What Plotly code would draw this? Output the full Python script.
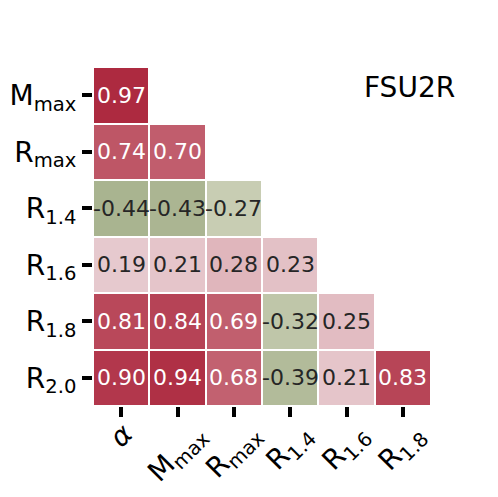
import plotly.graph_objects as go

# Correlation matrix (lower triangle) for FSU2R
x_labels = ["<i>α</i>", "M<sub>max</sub>", "R<sub>max</sub>", "R<sub>1.4</sub>", "R<sub>1.6</sub>", "R<sub>1.8</sub>"]
y_labels = ["M<sub>max</sub>", "R<sub>max</sub>", "R<sub>1.4</sub>", "R<sub>1.6</sub>", "R<sub>1.8</sub>", "R<sub>2.0</sub>"]

row_mmax = [0.97, None, None, None, None, None]
row_rmax = [0.74, 0.70, None, None, None, None]
row_r14 = [-0.44, -0.43, -0.27, None, None, None]
row_r16 = [0.19, 0.21, 0.28, 0.23, None, None]
row_r18 = [0.81, 0.84, 0.69, -0.32, 0.25, None]
row_r20 = [0.90, 0.94, 0.68, -0.39, 0.21, 0.83]
z = [row_mmax, row_rmax, row_r14, row_r16, row_r18, row_r20]

model_name = "FSU2R"

# diverging green -> light -> red, on [-1, 1]
colorscale = [
    [0.00, "#5f7038"],
    [0.28, "#a9b490"],
    [0.365, "#c8cdb3"],
    [0.50, "#f2eeee"],
    [0.595, "#e6c9ce"],
    [0.64, "#e0b6bc"],
    [0.84, "#c26170"],
    [0.985, "#ad2a40"],
    [1.00, "#ab273d"],
]

fig = go.Figure(go.Heatmap(
    z=z, x=x_labels, y=y_labels,
    colorscale=colorscale, zmin=-1, zmax=1,
    showscale=False, xgap=2, ygap=2, hoverongaps=False,
))

# cell labels
for i, row in enumerate(z):
    for j, v in enumerate(row):
        if v is None:
            continue
        fig.add_annotation(
            x=x_labels[j], y=y_labels[i], text=f"{v:.2f}", showarrow=False,
            font=dict(size=22, color="white" if abs(v) > 0.6 else "#262626"),
        )

# x tick labels, rotated 45 deg and centred under each tick (matplotlib style)
for lab in x_labels:
    fig.add_annotation(
        x=lab, xref="x", y=-0.025, yref="paper", text=lab, showarrow=False,
        textangle=-45, xanchor="center", yanchor="top",
        font=dict(size=28, color="black"),
    )

fig.add_annotation(
    x=0.935, y=0.94, xref="paper", yref="paper", text=model_name,
    showarrow=False, font=dict(size=28, color="black"),
    xanchor="center", yanchor="middle",
)

n = len(x_labels)
fig.update_xaxes(
    range=[-0.5, n - 0.5],
    ticks="outside", ticklen=10, tickwidth=3.5, tickcolor="black",
    showticklabels=False,
    showgrid=False, zeroline=False, showline=False, automargin=False,
)
fig.update_yaxes(
    range=[n - 0.5, -0.5],
    ticks="outside", ticklen=10, tickwidth=3.5, tickcolor="black",
    tickfont=dict(size=28, color="black"),
    showgrid=False, zeroline=False, showline=False, automargin=False,
)

# page body adds 8px offset, so margins are shifted accordingly
fig.update_layout(
    width=498, height=497,
    margin=dict(l=85, r=75, t=59, b=99, autoexpand=False),
    paper_bgcolor="white", plot_bgcolor="white",
    font=dict(family="DejaVu Sans"),
)

fig.write_html("out.html")
